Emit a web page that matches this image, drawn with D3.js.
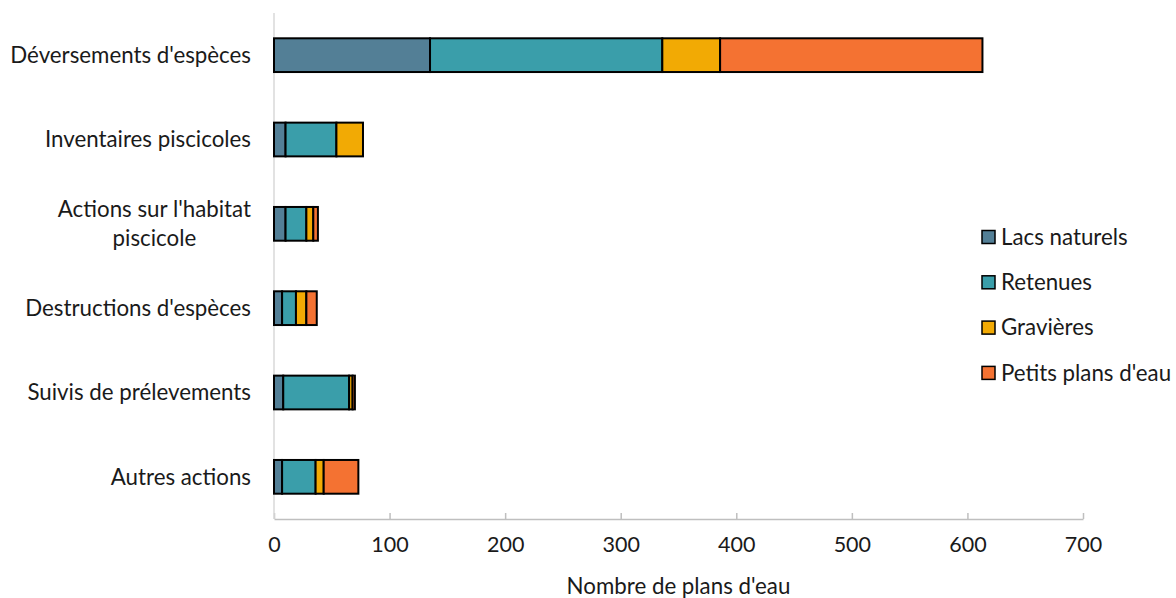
<!DOCTYPE html>
<html><head><meta charset="utf-8">
<script src="https://cdn.jsdelivr.net/npm/d3@7"></script>
<style>body{margin:0;background:#fff;} text{font-family:Lato,"Carlito",sans-serif;fill:#1a1a1a;}</style>
</head><body><svg id="c" width="1176" height="598"></svg>
<script>
const categories = ["Déversements d'espèces","Inventaires piscicoles","Actions sur l'habitat piscicole","Destructions d'espèces","Suivis de prélevements","Autres actions"];
const categoryLines = [["Déversements d'espèces"],["Inventaires piscicoles"],["Actions sur l'habitat","piscicole"],["Destructions d'espèces"],["Suivis de prélevements"],["Autres actions"]];
const seriesNames = ["Lacs naturels","Retenues","Gravières","Petits plans d'eau"];
const lacsNaturels = [135,10,10,7,8,7];
const retenues = [201,44,18,12,57,29];
const gravieres = [50,23,6,9,3,7];
const petitsPlans = [227,0,4,9,2,30];
const xTicks = [0,100,200,300,400,500,600,700];
const colors = ["#537f96","#3a9eaa","#f2aa04","#f47232"];

const FS = 22.3;
const svg = d3.select("#c");
const m = {l:274, r:1083, t:13, b:519};
const x = d3.scaleLinear().domain([0,700]).range([m.l,m.r]);
const y = d3.scaleBand().domain(categories).range([m.t,m.b]).paddingInner(0.6).paddingOuter(0.3);

const rows = categories.map((c,i)=>({cat:c, "Lacs naturels":lacsNaturels[i], "Retenues":retenues[i], "Gravières":gravieres[i], "Petits plans d'eau":petitsPlans[i]}));
const stack = d3.stack().keys(seriesNames)(rows);

// x axis
const xa = svg.append("g").attr("transform",`translate(0,${m.b})`)
  .call(d3.axisBottom(x).tickValues(xTicks).tickSizeInner(-6).tickSizeOuter(0).tickPadding(18));
xa.select(".domain").attr("stroke","#bfbfbf").attr("stroke-width",1.5);
xa.selectAll(".tick line").attr("stroke","#bfbfbf").attr("stroke-width",1.5);
xa.selectAll(".tick text").attr("font-size",21.5).attr("font-family","Lato, sans-serif").attr("fill","#1a1a1a");

// y axis line
svg.append("line").attr("x1",m.l).attr("x2",m.l).attr("y1",m.t).attr("y2",m.b)
  .attr("stroke","#d9d9d9").attr("stroke-width",1.5);

// bars
svg.append("g").selectAll("g").data(stack).join("g")
  .attr("fill",(d,i)=>colors[i])
  .selectAll("rect").data(d=>d.filter(s=>s[1]-s[0]>0)).join("rect")
  .attr("x",d=>x(d[0])).attr("width",d=>x(d[1])-x(d[0]))
  .attr("y",d=>y(d.data.cat)).attr("height",y.bandwidth())
  .attr("stroke","#000").attr("stroke-width",2);

// category labels
categories.forEach((c,i)=>{
  const lines = categoryLines[i];
  const cy = y(c)+y.bandwidth()/2;
  if(lines.length===1){
    svg.append("text").attr("x",251).attr("y",cy).attr("dy","0.35em")
      .attr("text-anchor","end").attr("font-size",FS).text(lines[0]);
  } else {
    const t = svg.append("text").attr("font-size",FS).attr("text-anchor","middle");
    const tmp = svg.append("text").attr("font-size",FS).text(lines[0]);
    const w = tmp.node().getComputedTextLength(); tmp.remove();
    const cx = 251 - w/2;
    lines.forEach((ln,j)=>{
      t.append("tspan").attr("x",cx).attr("y",cy + (j-(lines.length-1)/2)*29).attr("dy","0.35em").text(ln);
    });
  }
});

// axis title
svg.append("text").attr("x",(m.l+m.r)/2).attr("y",594).attr("text-anchor","middle")
  .attr("font-size",FS).text("Nombre de plans d'eau");

// legend
const lg = svg.append("g");
seriesNames.forEach((s,i)=>{
  const ly = 237 + i*45.3;
  lg.append("rect").attr("x",982).attr("y",ly-6.5).attr("width",13).attr("height",13)
    .attr("fill",colors[i]).attr("stroke","#000").attr("stroke-width",1.5);
  lg.append("text").attr("x",1001).attr("y",ly).attr("dy","0.35em").attr("font-size",FS).text(s);
});
</script></body></html>
